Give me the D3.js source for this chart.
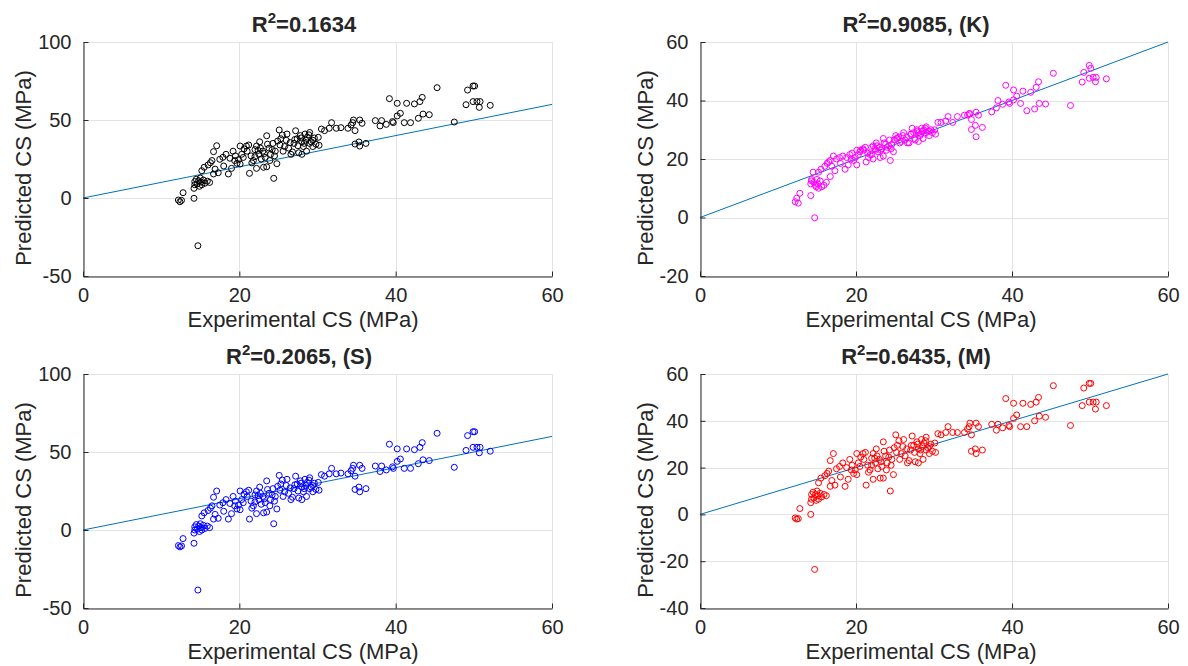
<!DOCTYPE html>
<html>
<head>
<meta charset="utf-8">
<script src="https://cdn.jsdelivr.net/npm/d3@7"></script>
<style>
body { margin: 0; background: #fff; }
svg { display: block; }
text { font-family: "Liberation Sans", Arial, Helvetica, sans-serif; fill: #262626; }
</style>
</head>
<body>
<div id="chart"></div>
<script>
// experimental compressive strength (shared by every panel)
var experimental = [
	12.2, 12.4, 12.6, 12.8, 14.7, 14.2, 14.2, 14.3, 14.3, 14.5, 14.6, 14.8, 14.9, 15.0, 15.1, 15.2, 15.4, 15.6, 15.9, 16.2,
	15.2, 15.5, 16.0, 16.3, 16.7, 17.3, 16.5, 17.1, 16.7, 17.5, 17.9,
	18.6, 18.3, 18.8, 19.2, 19.7, 20.1, 19.5, 19.9, 20.1, 20.3, 20.5, 20.9,
	21.3, 22.2, 23.1, 23.5, 24.4, 21.0, 21.5, 22.0, 22.2, 22.5, 22.8, 23.0, 23.3, 23.5, 23.8, 24.0, 24.3, 24.6, 25.1, 25.5, 24.8, 21.8, 22.6, 23.9,
	25.2, 25.6, 26.0, 26.3, 26.6, 27.0, 27.2, 27.4, 27.6, 27.8, 28.0, 28.2, 28.4, 28.5, 28.7, 29.0, 29.4, 29.4, 29.6, 30.1, 30.2, 29.0, 28.0,
	30.5, 30.9, 31.5, 31.8, 32.4, 33.0, 33.9, 34.3, 34.5, 34.6, 35.4, 35.7, 34.8, 34.8, 35.3, 35.4, 36.2,
	37.4, 38.0, 38.2, 38.8, 39.2, 39.6, 39.7, 40.2, 40.6, 40.2, 41.1, 41.4, 41.9, 42.4, 42.9, 43.1, 43.4, 43.5, 44.3, 45.3,
	47.5, 49.0, 49.2, 49.9, 50.1, 49.9, 50.4, 50.8, 50.7, 52.1,
	20.6, 21.2, 21.6, 22.0, 22.4, 22.7, 23.2, 23.6, 24.2, 24.5, 24.9, 25.3, 25.8, 26.1, 26.5, 26.8, 27.1, 27.5, 27.9, 28.3,
	28.6, 28.9, 29.2, 29.8, 18.0, 19.0, 19.4, 16.9
];

// predicted CS, base model
var predBase = [
	-1.3, -2.4, -1.5, 3.4, -30.6, -0.2, 6.2, 8.5, 10.5, 12.0, 9.0, 11.0, 7.5, 12.8, 10.2, 8.5, 11.5, 9.5, 10.8, 10.0,
	17.5, 19.7, 21.2, 22.6, 15.4, 16.2, 24.0, 33.5, 29.7, 24.8, 26.1,
	15.4, 28.0, 25.5, 30.0, 22.2, 21.8, 27.0, 24.5, 33.3, 28.0, 26.0, 33.3,
	15.8, 19.0, 19.7, 20.0, 12.6, 30.0, 27.0, 31.0, 33.3, 28.0, 25.0, 30.0, 26.0, 39.9, 32.0, 28.0, 35.0, 30.0, 43.6, 40.4, 22.0, 24.0, 36.0, 24.0,
	34.0, 30.0, 37.0, 32.0, 28.0, 35.0, 43.1, 38.0, 29.0, 40.0, 36.0, 33.0, 41.0, 37.0, 39.0, 35.0, 37.0, 33.0, 38.5, 38.9, 33.8, 42.0, 28.0,
	44.2, 43.2, 44.7, 48.3, 44.7, 45.1, 44.7, 46.8, 48.3, 50.0, 50.0, 47.9, 43.2, 34.6, 35.9, 33.3, 35.0,
	49.6, 46.2, 49.6, 47.2, 63.7, 49.0, 48.3, 52.6, 54.3, 60.7, 48.3, 60.7, 48.3, 60.3, 51.1, 61.8, 64.5, 53.8, 53.4, 70.7,
	48.7, 59.8, 69.2, 71.8, 71.8, 61.8, 61.8, 61.8, 58.1, 59.4,
	31.5, 34.0, 22.5, 26.5, 30.5, 32.0, 28.5, 34.5, 31.0, 27.0, 36.5, 38.0, 33.0, 41.0, 35.5, 29.5, 37.5, 33.5, 38.5, 35.0,
	30.0, 40.5, 36.0, 34.5, 20.5, 19.0, 24.0, 18.5
];

// predicted CS, model (K)
var predK = [
	5.4, 6.6, 4.9, 8.3, -0.1, 7.5, 11.5, 12.5, 13.0, 15.5, 12.0, 11.0, 10.5, 13.0, 11.5, 10.0, 12.5, 10.5, 11.0, 12.0,
	15.5, 16.5, 17.5, 18.5, 14.0, 16.0, 19.0, 21.0, 19.5, 20.0, 20.5,
	16.5, 21.0, 20.5, 21.5, 19.5, 18.0, 22.0, 20.5, 23.0, 21.5, 22.5, 23.5,
	19.0, 20.0, 20.5, 21.0, 19.5, 23.0, 22.0, 24.0, 24.5, 23.0, 22.5, 24.0, 23.5, 27.0, 25.0, 24.0, 26.5, 25.0, 28.0, 27.5, 22.5, 21.5, 25.5, 23.0,
	27.0, 25.5, 28.0, 26.5, 25.5, 28.5, 30.5, 29.0, 26.5, 30.0, 29.0, 28.0, 30.5, 29.5, 30.0, 29.0, 29.5, 28.0, 30.0, 30.0, 28.5, 31.0, 26.0,
	32.5, 32.5, 33.0, 34.5, 32.5, 34.5, 35.0, 35.0, 35.5, 35.5, 36.0, 35.0, 33.5, 30.1, 31.5, 27.6, 30.8,
	36.1, 37.5, 40.0, 38.7, 45.2, 39.5, 39.0, 40.2, 41.5, 43.6, 39.0, 43.2, 36.5, 42.8, 37.1, 44.5, 46.4, 39.0, 38.8, 49.3,
	38.3, 46.3, 49.6, 52.0, 51.0, 47.6, 47.9, 47.9, 46.4, 47.4,
	23.0, 24.0, 20.5, 21.5, 23.5, 24.5, 23.0, 25.5, 24.5, 23.5, 26.5, 27.0, 26.0, 29.0, 27.5, 25.5, 28.5, 27.0, 29.5, 28.5,
	27.0, 30.5, 29.5, 29.0, 18.5, 18.0, 20.0, 17.5
];

// predicted CS, model (S)
var predS = [
	-10.0, -10.8, -10.2, -5.5, -38.5, -8.5, -2.0, 0.0, 2.0, 3.5, 0.5, 2.5, -1.0, 4.0, 1.5, 0.0, 3.0, 1.0, 2.5, 1.5,
	9.0, 11.0, 12.5, 14.0, 7.0, 7.5, 15.5, 25.0, 21.0, 16.0, 17.5,
	7.0, 19.5, 17.0, 21.5, 13.5, 13.0, 18.5, 16.0, 25.0, 19.5, 17.5, 24.5,
	7.0, 10.5, 11.0, 11.5, 4.0, 21.5, 18.5, 22.5, 25.0, 19.5, 16.5, 21.5, 17.5, 31.5, 23.5, 19.5, 26.5, 21.5, 35.0, 32.0, 13.5, 15.5, 27.5, 15.5,
	25.5, 21.5, 28.5, 23.5, 19.5, 26.5, 34.5, 29.5, 20.5, 31.5, 27.5, 24.5, 32.5, 28.5, 30.5, 26.5, 28.5, 24.5, 30.0, 30.5, 25.5, 33.5, 19.5,
	35.5, 34.5, 36.0, 39.5, 36.0, 36.5, 36.0, 38.0, 39.5, 41.5, 41.5, 39.5, 34.5, 26.0, 27.5, 24.5, 26.5,
	41.0, 37.5, 41.0, 38.5, 55.0, 40.5, 39.5, 44.0, 45.5, 52.0, 39.5, 52.0, 39.5, 51.5, 42.5, 53.0, 56.0, 45.0, 44.5, 62.0,
	40.2, 51.0, 60.5, 63.0, 63.0, 53.0, 53.0, 53.0, 49.5, 50.5,
	23.0, 25.5, 14.0, 18.0, 22.0, 23.5, 20.0, 26.0, 22.5, 18.5, 28.0, 29.5, 24.5, 32.5, 27.0, 21.0, 29.0, 25.0, 30.0, 26.5,
	21.5, 32.0, 27.5, 26.0, 12.0, 10.5, 15.5, 10.0
];

// predicted CS, model (M)
var predM = [
	-1.5, -2.0, -1.8, 2.5, -23.5, 0.0, 5.0, 6.5, 8.5, 9.5, 7.0, 8.5, 6.0, 10.0, 8.0, 6.5, 9.0, 7.5, 8.5, 8.0,
	13.5, 15.5, 16.5, 17.5, 12.0, 12.5, 18.5, 26.0, 23.0, 19.5, 20.5,
	12.0, 22.0, 20.0, 23.5, 17.5, 17.0, 21.0, 19.0, 26.0, 22.0, 20.5, 26.0,
	12.5, 15.0, 15.5, 15.5, 10.0, 23.5, 21.0, 24.0, 26.0, 22.0, 19.5, 23.5, 20.5, 31.0, 25.0, 22.0, 27.5, 23.5, 34.0, 31.5, 17.0, 19.0, 28.0, 19.0,
	26.5, 23.5, 29.0, 25.0, 22.0, 27.5, 33.5, 29.5, 22.5, 31.0, 28.0, 26.0, 32.0, 29.0, 30.5, 27.5, 29.0, 26.0, 30.0, 30.5, 26.5, 33.0, 22.0,
	34.5, 34.0, 35.0, 37.5, 35.0, 35.0, 35.0, 36.5, 37.5, 39.0, 39.0, 37.5, 34.0, 27.0, 28.0, 26.0, 27.5,
	38.5, 36.0, 38.5, 37.0, 49.5, 38.0, 37.5, 41.0, 42.5, 47.5, 37.5, 47.5, 37.5, 47.0, 40.0, 48.0, 50.0, 42.0, 41.5, 55.0,
	38.0, 46.5, 54.0, 56.0, 56.0, 48.0, 48.0, 48.0, 45.0, 46.5,
	24.5, 26.5, 18.0, 21.0, 24.0, 25.0, 22.5, 27.0, 24.5, 21.0, 28.5, 29.5, 26.0, 32.0, 28.0, 23.0, 29.5, 26.5, 30.0, 27.5,
	23.5, 31.5, 28.5, 27.0, 16.0, 15.0, 19.0, 14.5
];

var xTicks = [0, 20, 40, 60];
var fitLine = [0, 60];   // y = x reference line

var panels = [
	{ pred: predBase, color: '#000000', label: '=0.1634', yDomain: [-50, 100], yTicks: [-50, 0, 50, 100],
	  left: 83, right: 552, top: 42, bottom: 276, titleX: 304, xLabelX: 303, yLabelX: 31 },
	{ pred: predK, color: '#ff00ff', label: '=0.9085, (K)', yDomain: [-20, 60], yTicks: [-20, 0, 20, 40, 60],
	  left: 700, right: 1168, top: 42, bottom: 276, titleX: 916, xLabelX: 921, yLabelX: 653 },
	{ pred: predS, color: '#0000ff', label: '=0.2065, (S)', yDomain: [-50, 100], yTicks: [-50, 0, 50, 100],
	  left: 83, right: 552, top: 374, bottom: 608, titleX: 299, xLabelX: 303, yLabelX: 31 },
	{ pred: predM, color: '#ff0000', label: '=0.6435, (M)', yDomain: [-40, 60], yTicks: [-40, -20, 0, 20, 40, 60],
	  left: 700, right: 1168, top: 374, bottom: 608, titleX: 916, xLabelX: 921, yLabelX: 653 }
];

var svg = d3.select('#chart').append('svg')
	.attr('width', 1188)
	.attr('height', 666);

panels.forEach(function(p) {
	var x = d3.scaleLinear().domain([0, 60]).range([p.left, p.right]);
	var y = d3.scaleLinear().domain(p.yDomain).range([p.bottom, p.top]);
	var g = svg.append('g');

	// grid
	g.selectAll('line.gx').data(xTicks).enter().append('line')
		.attr('x1', d => Math.round(x(d)) + 0.5).attr('x2', d => Math.round(x(d)) + 0.5)
		.attr('y1', p.top).attr('y2', p.bottom)
		.attr('stroke', '#e3e3e3');
	g.selectAll('line.gy').data(p.yTicks).enter().append('line')
		.attr('x1', p.left).attr('x2', p.right)
		.attr('y1', d => Math.round(y(d)) + 0.5).attr('y2', d => Math.round(y(d)) + 0.5)
		.attr('stroke', '#e3e3e3');

	// reference line
	g.append('path')
		.datum(fitLine)
		.attr('d', d3.line().x(d => x(d)).y(d => y(d)))
		.attr('fill', 'none')
		.attr('stroke', '#0072bd')
		.attr('stroke-width', 1);

	// points
	g.selectAll('circle').data(experimental).enter().append('circle')
		.attr('cx', d => x(d))
		.attr('cy', (d, i) => y(p.pred[i]))
		.attr('r', 3)
		.attr('fill', 'none')
		.attr('stroke', p.color)
		.attr('stroke-width', 1);

	// axes (matlab style: inward ticks, plain hyphen for negatives)
	var fmt = d => String(d);
	var ax = g.append('g')
		.attr('transform', 'translate(0,' + (p.bottom + 0.5) + ')')
		.call(d3.axisBottom(x).tickValues(xTicks).tickFormat(fmt).tickSize(-5).tickSizeOuter(0).tickPadding(11));
	var ay = g.append('g')
		.attr('transform', 'translate(' + (p.left + 0.5) + ',0)')
		.call(d3.axisLeft(y).tickValues(p.yTicks).tickFormat(fmt).tickSize(-5).tickSizeOuter(0).tickPadding(12));
	[ax, ay].forEach(function(a) {
		a.selectAll('path, line').attr('stroke', '#262626');
		a.selectAll('text')
			.attr('fill', '#262626')
			.style('font-size', '20px')
			.style('font-family', '"Liberation Sans", Arial, sans-serif');
	});

	// title
	var t = g.append('text')
		.attr('x', p.titleX)
		.attr('y', p.top - 10)
		.attr('text-anchor', 'middle')
		.style('font-size', '22px')
		.style('font-weight', 'bold')
		.attr('fill', '#000');
	t.append('tspan').text('R');
	t.append('tspan').attr('dy', -9).style('font-size', '15px').text('2');
	t.append('tspan').attr('dy', 9).text(p.label);

	// axis labels
	g.append('text')
		.attr('x', p.xLabelX)
		.attr('y', p.bottom + 51)
		.attr('text-anchor', 'middle')
		.style('font-size', '22px')
		.text('Experimental CS (MPa)');
	g.append('text')
		.attr('transform', 'translate(' + p.yLabelX + ',' + ((p.top + p.bottom) / 2 + 9) + ') rotate(-90)')
		.attr('text-anchor', 'middle')
		.style('font-size', '22px')
		.text('Predicted CS (MPa)');
});
</script>
</body>
</html>
